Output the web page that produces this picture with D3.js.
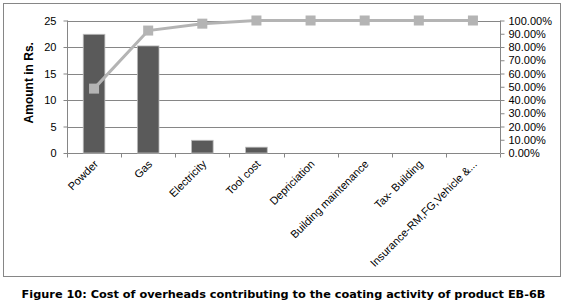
<!DOCTYPE html>
<html>
<head>
<meta charset="utf-8">
<script src="https://cdn.jsdelivr.net/npm/d3@7"></script>
<style>
	body { margin: 0; background: #fff; }
	svg { display: block; }
</style>
</head>
<body>
<div id="chart"></div>
<script>
const categories = ["Powder", "Gas", "Electricity", "Tool cost", "Depriciation",
	"Building maintenance", "Tax- Building", "Insurance-RM,FG,Vehicle &..."];
const amounts = [22.4, 20.2, 2.4, 1.1, 0, 0, 0, 0];
const leftTicks = [0, 5, 10, 15, 20, 25];
const rightTicks = [0, 0.1, 0.2, 0.3, 0.4, 0.5, 0.6, 0.7, 0.8, 0.9, 1];

const W = 567, H = 306;
const plot = { left: 67, right: 500, top: 20.5, bottom: 153 };
const FONT = "'Liberation Sans', Arial, sans-serif";

const total = d3.sum(amounts);
let run = 0;
const cumulative = amounts.map((v) => (run += v) / total);

const svg = d3.select("#chart").append("svg")
	.attr("width", W).attr("height", H)
	.style("font-family", FONT);

// outer chart frame
svg.append("rect")
	.attr("x", 3.5).attr("y", 3.5)
	.attr("width", 557).attr("height", 273)
	.attr("fill", "none").attr("stroke", "#868686");

const x = d3.scaleBand().domain(categories).range([plot.left, plot.right]);
const y = d3.scaleLinear().domain([0, 25]).range([plot.bottom, plot.top]);
const y2 = d3.scaleLinear().domain([0, 1]).range([plot.bottom, plot.top]);

// gridlines
svg.append("g")
	.selectAll("line")
	.data(leftTicks.filter((d) => d > 0))
	.join("line")
	.attr("x1", plot.left).attr("x2", plot.right)
	.attr("y1", (d) => Math.round(y(d)) + 0.5)
	.attr("y2", (d) => Math.round(y(d)) + 0.5)
	.attr("stroke", "#868686");

// left axis
const gl = svg.append("g")
	.attr("transform", `translate(${plot.left + 0.5},0)`)
	.call(d3.axisLeft(y).tickValues(leftTicks).tickSize(4).tickPadding(7));
gl.select(".domain").attr("stroke", "#868686").attr("d", `M0,${plot.top}V${plot.bottom}`);
gl.selectAll(".tick line").attr("stroke", "#868686");
gl.selectAll("text").attr("font-size", 11).attr("font-family", FONT).attr("fill", "#000");

// right axis
const gr = svg.append("g")
	.attr("transform", `translate(${plot.right + 0.5},0)`)
	.call(d3.axisRight(y2).tickValues(rightTicks).tickSize(4).tickPadding(4)
		.tickFormat((d) => (d * 100).toFixed(2) + "%"));
gr.select(".domain").attr("stroke", "#868686").attr("d", `M0,${plot.top}V${plot.bottom}`);
gr.selectAll(".tick line").attr("stroke", "#868686");
gr.selectAll("text").attr("font-size", 11).attr("font-family", FONT).attr("fill", "#000");

// bottom axis
const gb = svg.append("g")
	.attr("transform", `translate(0,${plot.bottom + 0.5})`)
	.call(d3.axisBottom(x).tickSize(0).tickFormat(""));
gb.select(".domain").attr("stroke", "#868686").attr("d", `M${plot.left},0H${plot.right}`);
const bounds = categories.map((c) => x(c)).concat([plot.right]);
gb.selectAll(".sep")
	.data(bounds)
	.join("line")
	.attr("x1", (d) => Math.round(d) + 0.5).attr("x2", (d) => Math.round(d) + 0.5)
	.attr("y1", 0).attr("y2", 4)
	.attr("stroke", "#868686");

// bars
const barW = x.bandwidth() * 0.4;
svg.append("g")
	.selectAll("rect")
	.data(amounts.filter((d) => d > 0))
	.join("rect")
	.attr("x", (d, i) => x(categories[i]) + (x.bandwidth() - barW) / 2)
	.attr("y", (d) => y(d))
	.attr("width", barW)
	.attr("height", (d) => plot.bottom - y(d))
	.attr("fill", "#5a5a5a")
	.attr("stroke", "#bdbdbd")
	.attr("stroke-width", 0.8);

// cumulative line
const cx = (i) => x(categories[i]) + x.bandwidth() / 2;
svg.append("path")
	.datum(cumulative)
	.attr("fill", "none")
	.attr("stroke", "#b4b4b4")
	.attr("stroke-width", 3)
	.attr("d", d3.line().x((d, i) => cx(i)).y((d) => y2(d)));

svg.append("g")
	.selectAll("rect")
	.data(cumulative)
	.join("rect")
	.attr("x", (d, i) => cx(i) - 5)
	.attr("y", (d) => y2(d) - 5)
	.attr("width", 10).attr("height", 10)
	.attr("fill", "#b4b4b4");

// category labels
svg.append("g")
	.selectAll("text")
	.data(categories)
	.join("text")
	.attr("transform", (d) => `translate(${x(d) + x.bandwidth() / 2 + 2},${plot.bottom + 9}) rotate(-45)`)
	.attr("text-anchor", "end")
	.attr("dy", "0.35em")
	.attr("font-size", 11)
	.attr("fill", "#000")
	.text((d) => d);

// y title
svg.append("text")
	.attr("transform", `translate(33,${(plot.top + plot.bottom) / 2 - 4}) rotate(-90)`)
	.attr("text-anchor", "middle")
	.attr("font-size", 12)
	.attr("font-weight", "bold")
	.attr("fill", "#000")
	.text("Amount in Rs.");

// caption
svg.append("text")
	.attr("x", 283.5).attr("y", 298)
	.attr("text-anchor", "middle")
	.attr("font-family", "'DejaVu Sans', sans-serif")
	.attr("font-size", 11.3)
	.attr("font-weight", "bold")
	.attr("fill", "#000")
	.text("Figure 10: Cost of overheads contributing to the coating activity of product EB-6B");
</script>
</body>
</html>
